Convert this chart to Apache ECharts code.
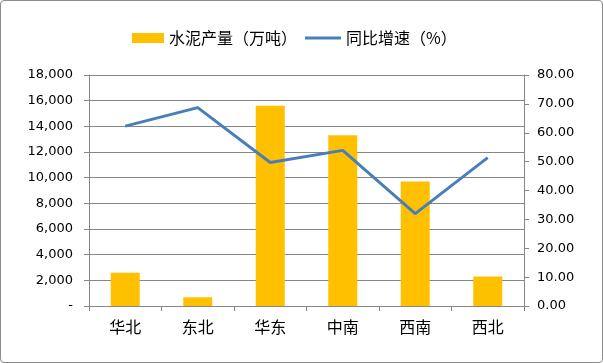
<!DOCTYPE html>
<html><head><meta charset="utf-8">
<script src="https://cdn.jsdelivr.net/npm/echarts@6/dist/echarts.min.js"></script>
<style>
html,body{margin:0;padding:0;background:#fff;}
#c{width:601px;height:361px;border:1px solid #8c8c8c;border-radius:4px;}
</style></head>
<body><div id="c"></div>
<script>
const categories = ['华北','东北','华东','中南','西南','西北'];
const cementOutput = [2600, 680, 15600, 13300, 9700, 2300];
const growthRate = [62.3, 68.7, 49.7, 53.9, 32.0, 51.4];
const seriesNames = ['水泥产量（万吨）', '同比增速（%）'];

const chart = echarts.init(document.getElementById('c'));
const font = '"Noto Sans CJK SC", sans-serif';
const legendText = {fontFamily: font, fontSize: 16, color: '#000'};
chart.setOption({
  animation: false,
  legend: [{
    top: 29, left: 131, padding: 0, itemWidth: 32, itemHeight: 10, textStyle: legendText,
    data: [{name: seriesNames[0], icon: 'rect'}]
  }, {
    top: 29, left: 304, padding: 0, itemWidth: 36, itemHeight: 3, textStyle: legendText,
    data: [{name: seriesNames[1], icon: 'rect'}]
  }],
  grid: {left: 88, right: 78, top: 74, bottom: 56, containLabel: false},
  xAxis: {
    type: 'category', data: categories,
    axisLine: {lineStyle: {color: '#868686'}},
    axisTick: {show: true, length: 5, lineStyle: {color: '#868686'}},
    axisLabel: {fontFamily: font, fontSize: 16, color: '#000', margin: 13}
  },
  yAxis: [{
    type: 'value', min: 0, max: 18000, interval: 2000,
    axisLine: {show: true, lineStyle: {color: '#868686'}},
    axisTick: {show: true, length: 5, lineStyle: {color: '#868686'}},
    splitLine: {lineStyle: {color: '#868686'}},
    axisLabel: {fontFamily: 'Verdana, "DejaVu Sans", sans-serif', fontSize: 13, color: '#000', margin: 16,
      formatter: v => v === 0 ? '-' : v.toLocaleString('en-US')}
  }, {
    type: 'value', min: 0, max: 80, interval: 10,
    axisLine: {show: true, lineStyle: {color: '#868686'}},
    axisTick: {show: true, length: 5, lineStyle: {color: '#868686'}},
    splitLine: {show: false},
    axisLabel: {fontFamily: 'Verdana, "DejaVu Sans", sans-serif', fontSize: 13, color: '#000', margin: 13,
      formatter: v => v.toFixed(2)}
  }],
  series: [{
    name: seriesNames[0], type: 'bar', data: cementOutput, barWidth: '40%',
    itemStyle: {color: '#FFC000'}
  }, {
    name: seriesNames[1], type: 'line', yAxisIndex: 1, data: growthRate,
    symbol: 'none', lineStyle: {color: '#4A7EBB', width: 3}, itemStyle: {color: '#4A7EBB'}
  }]
});
</script></body></html>
